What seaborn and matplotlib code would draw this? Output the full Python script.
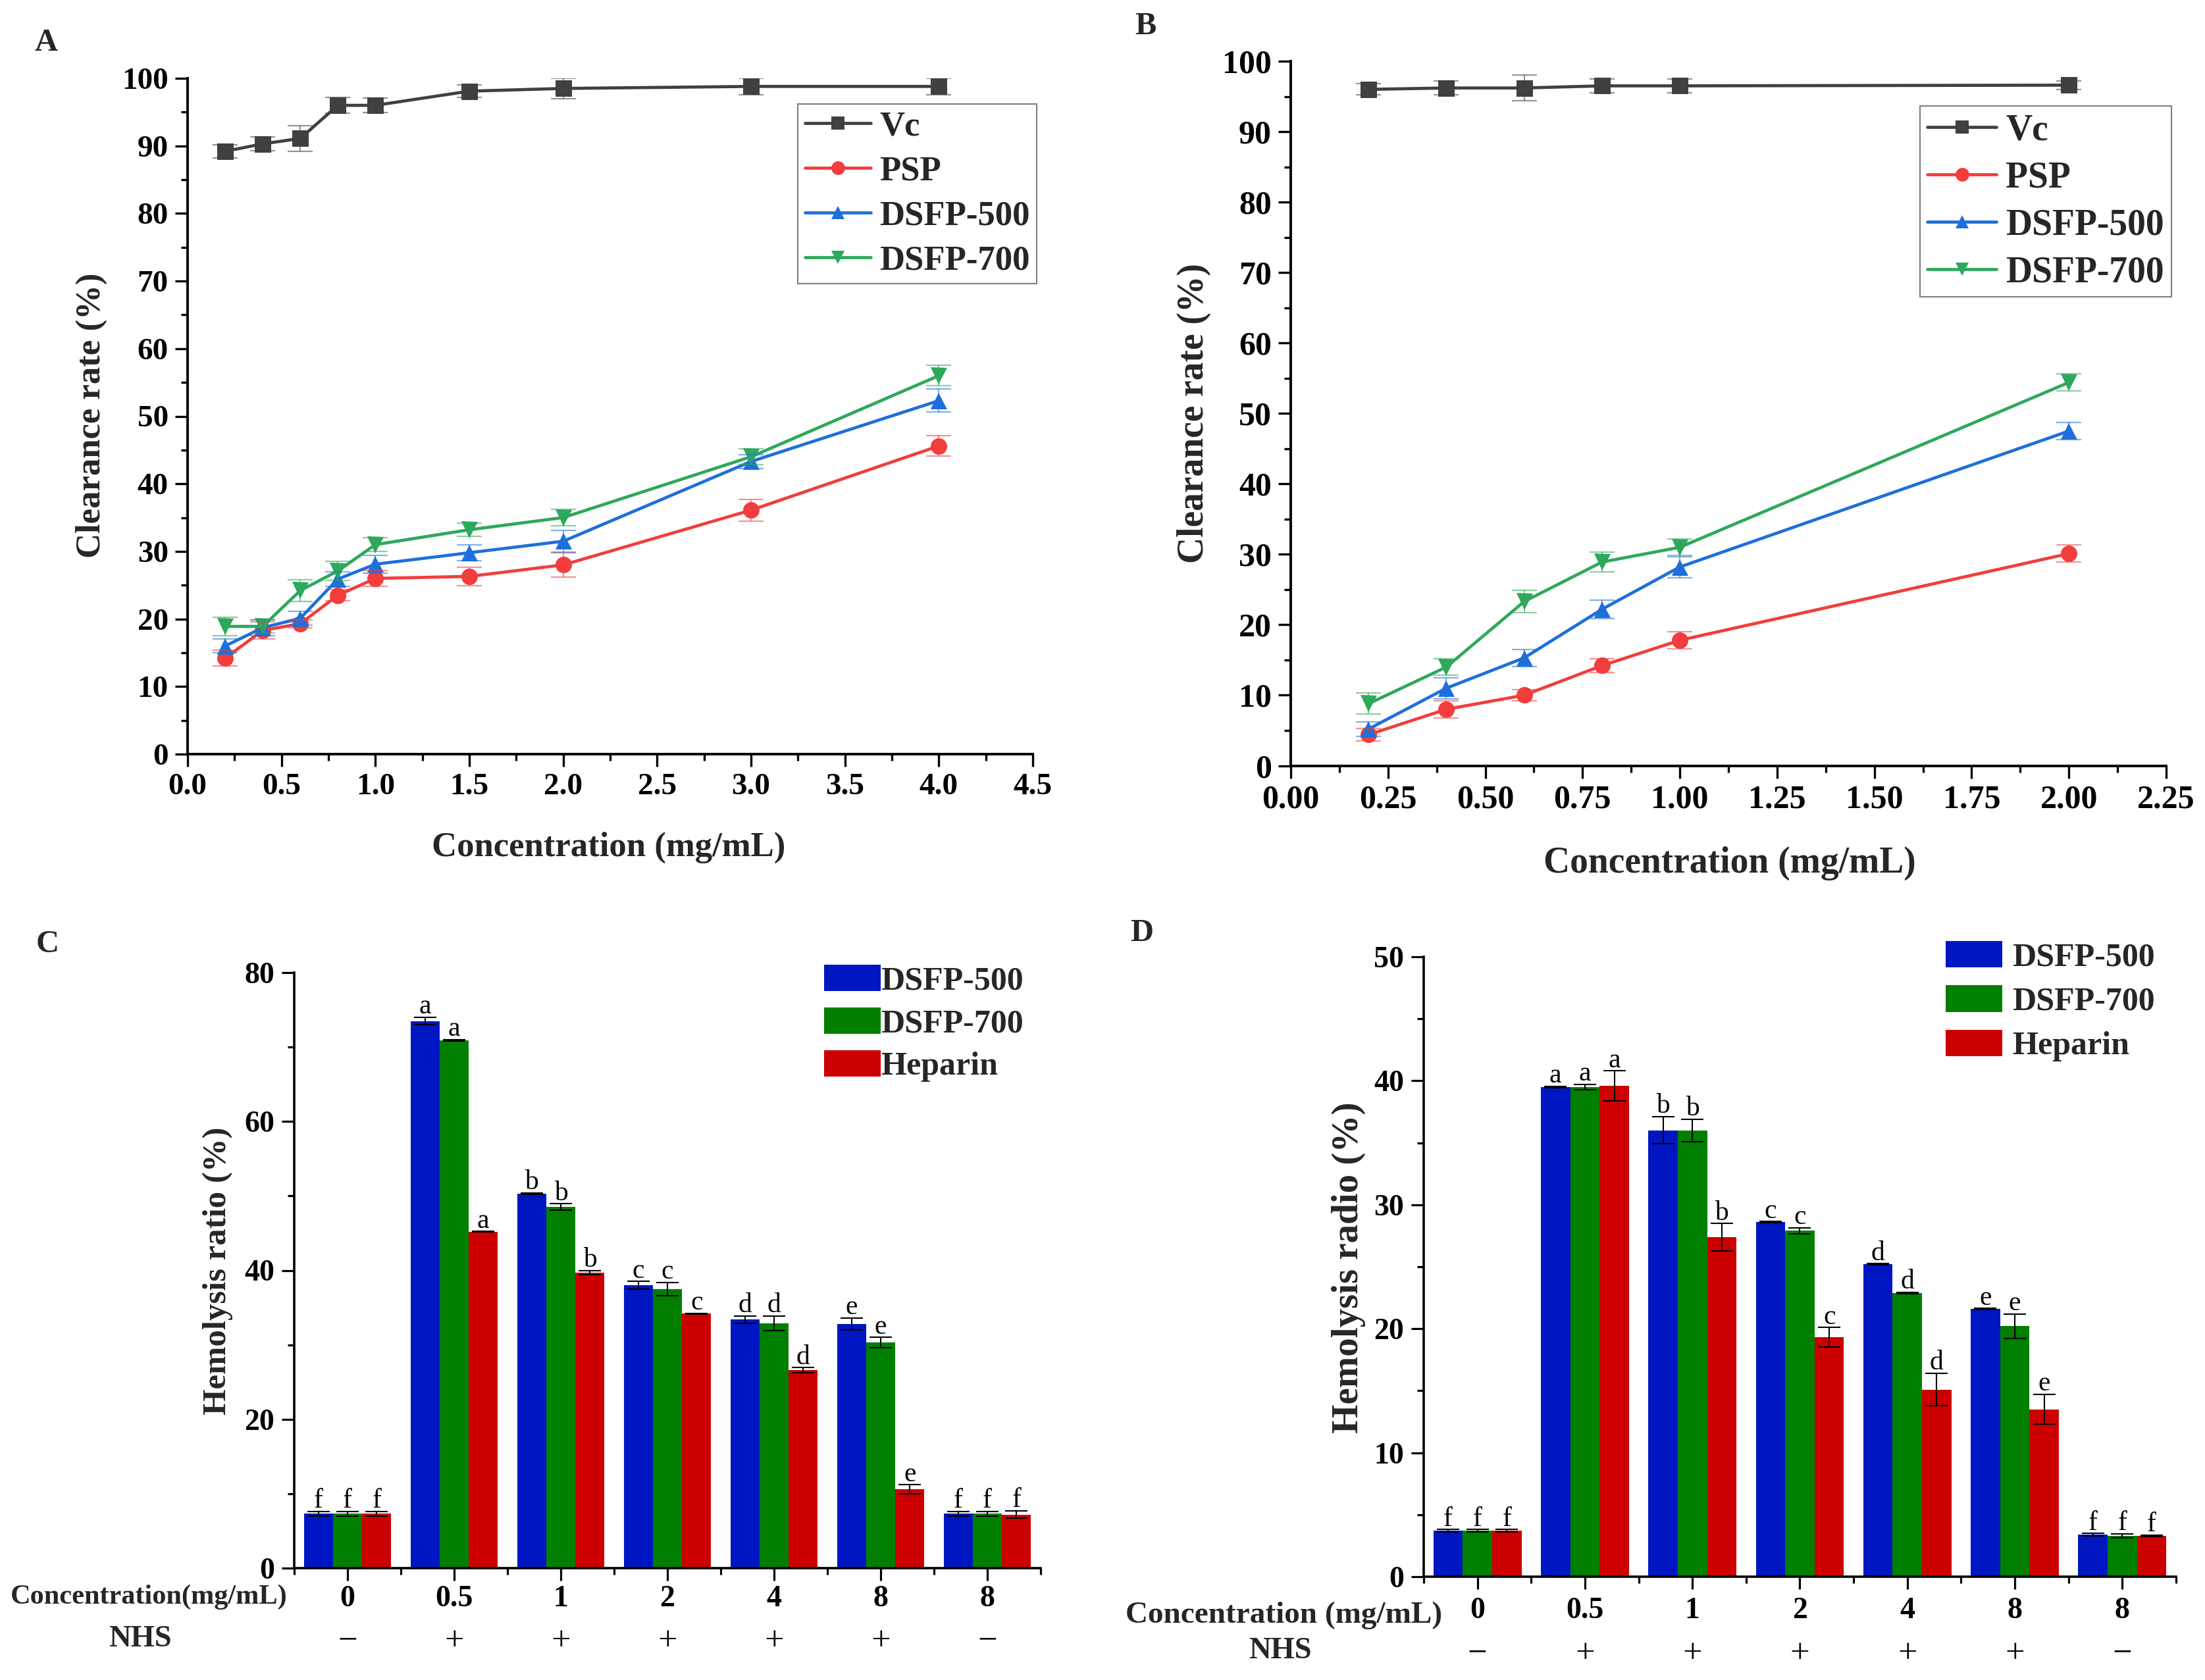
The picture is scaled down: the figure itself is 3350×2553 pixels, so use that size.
import numpy as np
import pandas as pd
import matplotlib
matplotlib.use("Agg")
import matplotlib.pyplot as plt
from matplotlib.ticker import MultipleLocator, FixedLocator, FormatStrFormatter
import seaborn as sns

# ---------------- data ----------------
# Panel A
conc_a = [0.2, 0.4, 0.6, 0.8, 1.0, 1.5, 2.0, 3.0, 4.0]
vc_a = [89.2, 90.3, 91.1, 96.0, 96.0, 98.1, 98.5, 98.8, 98.8]
vc_a_err = [1.0, 1.0, 1.9, 1.2, 1.1, 0.9, 1.5, 1.2, 1.2]
psp_a = [14.2, 18.3, 19.3, 23.5, 26.0, 26.3, 28.0, 36.1, 45.6]
psp_a_err = [1.2, 1.3, 0.6, 0.8, 1.2, 1.4, 1.8, 1.6, 1.5]
d500_a = [16.0, 18.7, 20.1, 25.9, 28.1, 29.8, 31.5, 43.3, 52.3]
d500_a_err = [1.0, 1.2, 1.0, 1.1, 1.3, 1.2, 1.6, 1.0, 1.7]
d700_a = [18.9, 18.9, 24.2, 27.1, 31.0, 33.2, 35.0, 44.0, 56.0]
d700_a_err = [1.4, 1.0, 1.6, 1.4, 1.0, 1.0, 1.2, 1.2, 1.5]

# Panel B
conc_b = [0.2, 0.4, 0.6, 0.8, 1.0, 2.0]
vc_b = [96.0, 96.2, 96.2, 96.5, 96.5, 96.6]
vc_b_err = [0.8, 1.0, 1.8, 1.0, 1.0, 0.6]
psp_b = [4.4, 8.0, 10.0, 14.2, 17.8, 30.1]
psp_b_err = [0.9, 1.2, 0.8, 1.0, 1.2, 1.2]
d500_b = [5.2, 11.0, 15.3, 22.2, 28.2, 47.5]
d500_b_err = [1.0, 1.5, 1.2, 1.3, 1.5, 1.2]
d700_b = [8.8, 14.0, 23.3, 28.9, 31.0, 54.4]
d700_b_err = [1.5, 1.2, 1.6, 1.4, 1.2, 1.2]

line_names = ["Vc", "PSP", "DSFP-500", "DSFP-700"]

# Panels C and D
conc_labels = ["0", "0.5", "1", "2", "4", "8", "8"]
nhs_labels = ["\u2212", "+", "+", "+", "+", "+", "\u2212"]
sig_letters = ["f", "a", "b", "c", "d", "e", "f"]
bar_groups = ["DSFP-500", "DSFP-700", "Heparin"]

c_d500 = [7.3, 73.5, 50.3, 38.0, 33.4, 32.8, 7.3]
c_d500_err = [0.3, 0.5, 0.1, 0.5, 0.5, 0.8, 0.3]
c_d700 = [7.3, 70.9, 48.5, 37.5, 32.9, 30.3, 7.3]
c_d700_err = [0.3, 0.1, 0.45, 0.9, 1.0, 0.7, 0.3]
c_hep = [7.3, 45.2, 39.7, 34.2, 26.6, 10.6, 7.2]
c_hep_err = [0.3, 0.05, 0.3, 0.05, 0.35, 0.6, 0.5]

d_d500 = [3.7, 39.5, 36.0, 28.6, 25.2, 21.6, 3.4]
d_d500_err = [0.1, 0.05, 1.1, 0.05, 0.05, 0.05, 0.1]
d_d700 = [3.7, 39.5, 36.0, 27.9, 22.9, 20.2, 3.3]
d_d700_err = [0.1, 0.2, 0.9, 0.25, 0.05, 1.0, 0.15]
d_hep = [3.7, 39.6, 27.4, 19.3, 15.1, 13.5, 3.3]
d_hep_err = [0.1, 1.2, 1.1, 0.8, 1.3, 1.2, 0.05]

# ---------------- style ----------------
sns.set_theme(style="ticks")
plt.rcParams["font.family"] = ["Liberation Serif", "DejaVu Serif"]
plt.rcParams["font.weight"] = "bold"
plt.rcParams["axes.labelweight"] = "bold"

line_colors = ["#404040", "#F23D3D", "#1E6FDB", "#2EA85C"]
line_markers = ["s", "o", "^", "v"]
bar_palette = {"DSFP-500": "#0016C2", "DSFP-700": "#007F00", "Heparin": "#CC0000"}

W, H, DPI = 3350, 2553, 100
fig = plt.figure(figsize=(W / DPI, H / DPI), dpi=DPI)
fig.patch.set_facecolor("white")


def rect(L, R, T, B):
    return [L / W, 1 - B / H, (R - L) / W, (B - T) / H]


def style_axis(ax, spine_w):
    sns.despine(ax=ax)
    for s in ["left", "bottom"]:
        ax.spines[s].set_linewidth(spine_w)
        ax.spines[s].set_color("black")
    ax.set_facecolor("white")


def line_panel(ax, x, ys, errs, xmax, xmaj, xmin, xfmt, fs_tick, fs_label,
               fs_leg, leg_anchor, ylab_xy, xlab_xy, leg_spacing):
    for y, e, n, c, m in zip(ys, errs, line_names, line_colors, line_markers):
        sns.lineplot(x=x, y=y, ax=ax, color=c, marker=m, markersize=18,
                     markeredgecolor=c, markeredgewidth=0, linewidth=3.4,
                     label=n, errorbar=None, zorder=3)
        ax.errorbar(x, y, yerr=e, fmt="none", ecolor=c, alpha=0.55,
                    elinewidth=1.6, capsize=14, capthick=1.6, zorder=4)
    for ln in ax.get_lines():
        if ln.get_marker() in line_markers:
            ln.set_markersize(18)
    ax.set_xlim(0, xmax)
    ax.set_ylim(0, 100)
    ax.xaxis.set_major_locator(MultipleLocator(xmaj))
    ax.xaxis.set_minor_locator(MultipleLocator(xmin))
    ax.xaxis.set_major_formatter(FormatStrFormatter(xfmt))
    ax.yaxis.set_major_locator(MultipleLocator(10))
    ax.yaxis.set_minor_locator(MultipleLocator(5))
    style_axis(ax, 2.8)
    ax.tick_params(which="major", direction="out", length=14, width=2.4,
                   labelsize=fs_tick, pad=7, color="black", labelcolor="black")
    ax.tick_params(which="minor", direction="out", length=7, width=2.4,
                   color="black")
    ax.set_xlabel("Concentration (mg/mL)", fontsize=fs_label)
    ax.set_ylabel("Clearance rate (%)", fontsize=fs_label)
    ax.xaxis.label.set_va("center")
    ax.yaxis.label.set_va("center")
    ax.xaxis.set_label_coords(*xlab_xy)
    ax.yaxis.set_label_coords(*ylab_xy)
    h, l = ax.get_legend_handles_labels()
    leg = ax.legend(h, l, loc="upper right", bbox_to_anchor=leg_anchor,
                    borderaxespad=0, fontsize=fs_leg, frameon=True,
                    fancybox=False, framealpha=1, edgecolor="#7F7F7F",
                    handlelength=1.9, handletextpad=0.25, borderpad=0.2,
                    labelspacing=leg_spacing, numpoints=1)
    leg.get_frame().set_linewidth(1.5)
    for line in leg.get_lines():
        line.set_linewidth(3.4)
        line.set_markersize(15)


def bar_panel(ax, vals, errs, ymax, ymaj, ymin, fs_tick, fs_ylab, ylabel,
              ylab_xy, leg_anchor, leg_textpad, sign_y, tick_pad, leg_spacing):
    ids = [f"g{i}" for i in range(len(conc_labels))]
    df = pd.DataFrame({
        "cat": ids * len(bar_groups),
        "group": np.repeat(bar_groups, len(ids)),
        "val": np.concatenate(vals),
    })
    sns.barplot(data=df, x="cat", y="val", hue="group", order=ids,
                hue_order=bar_groups, palette=bar_palette, width=0.82,
                errorbar=None, linewidth=0, saturation=1, ax=ax)
    for cont, v, e in zip(ax.containers, vals, errs):
        xs = [b.get_x() + b.get_width() / 2 for b in cont]
        ax.errorbar(xs, v, yerr=e, fmt="none", ecolor="black",
                    elinewidth=1.5, capsize=12, capthick=1.5, zorder=5)
        for xx, vv, ee, lt in zip(xs, v, e, sig_letters):
            ax.annotate(lt, (xx, vv + ee), xytext=(0, 4),
                        textcoords="offset points", ha="center",
                        va="baseline", fontsize=30, fontweight="normal",
                        color="black")
    ax.set_xlim(-0.5, len(ids) - 0.5)
    ax.set_ylim(0, ymax)
    ax.set_xticks(range(len(ids)))
    ax.set_xticklabels(conc_labels)
    ax.xaxis.set_minor_locator(FixedLocator(np.arange(-0.5, len(ids), 1.0)))
    ax.yaxis.set_major_locator(MultipleLocator(ymaj))
    ax.yaxis.set_minor_locator(MultipleLocator(ymin))
    style_axis(ax, 2.6)
    ax.tick_params(which="major", direction="out", length=13.5, width=2.3,
                   color="black", labelcolor="black")
    ax.tick_params(axis="y", which="major", labelsize=33, pad=8)
    ax.tick_params(axis="x", which="major", labelsize=fs_tick, pad=tick_pad)
    ax.tick_params(which="minor", direction="out", length=7, width=2.3,
                   color="black")
    ax.set_xlabel("")
    ax.set_ylabel(ylabel, fontsize=fs_ylab)
    ax.yaxis.label.set_va("center")
    ax.yaxis.set_label_coords(*ylab_xy)
    for i, s in enumerate(nhs_labels):
        ax.text(i, sign_y, s, transform=ax.get_xaxis_transform(),
                ha="center", va="center", fontsize=38, fontweight="normal",
                color="black")
    h, l = ax.get_legend_handles_labels()
    ax.legend(h, l, loc="upper left", bbox_to_anchor=leg_anchor,
              borderaxespad=0, borderpad=0, frameon=False, fontsize=36,
              handlelength=1.72, handleheight=0.86,
              handletextpad=leg_textpad, labelspacing=leg_spacing)


# ---------------- panel A ----------------
axA = fig.add_axes(rect(285, 1569, 119, 1146))
line_panel(axA, conc_a, [vc_a, psp_a, d500_a, d700_a],
           [vc_a_err, psp_a_err, d500_a_err, d700_a_err],
           4.5, 0.5, 0.25, "%.1f", 34, 38, 38, (1.0047, 0.962),
           (-0.1137, 0.5015), (0.4984, -0.1383), 0.38)

# ---------------- panel B ----------------
axB = fig.add_axes(rect(1961, 3291, 93, 1163.5))
line_panel(axB, conc_b, [vc_b, psp_b, d500_b, d700_b],
           [vc_b_err, psp_b_err, d500_b_err, d700_b_err],
           2.25, 0.25, 0.125, "%.2f", 36, 40, 40, (1.006, 0.9365),
           (-0.1105, 0.5002), (0.5015, -0.1387), 0.36)

# ---------------- panel C ----------------
axC = fig.add_axes(rect(447, 1581, 1478, 2383))
bar_panel(axC, [c_d500, c_d700, c_hep], [c_d500_err, c_d700_err, c_hep_err],
          80, 20, 10, 33, 36.5, "Hemolysis ratio (%)", (-0.1023, 0.4994),
          (0.710, 1.013), 0.0, -0.1227, 5, 0.33)

# ---------------- panel D ----------------
axD = fig.add_axes(rect(2163, 3306, 1454, 2396))
bar_panel(axD, [d_d500, d_d700, d_hep], [d_d500_err, d_d700_err, d_hep_err],
          50, 10, 5, 33, 41, "Hemolysis radio (%)", (-0.1002, 0.499),
          (0.6938, 1.0255), 0.3, -0.1242, 9, 0.38)

# row labels under bar panels
fig.text(226 / W, 1 - 2427 / H, "Concentration(mg/mL)", ha="center",
         va="center", fontsize=30.5, fontweight="bold")
fig.text(213 / W, 1 - 2491 / H, "NHS", ha="center", va="center",
         fontsize=33.5, fontweight="bold")
fig.text(1951 / W, 1 - 2455 / H, "Concentration (mg/mL)", ha="center",
         va="center", fontsize=34, fontweight="bold")
fig.text(1945 / W, 1 - 2509 / H, "NHS", ha="center", va="center",
         fontsize=33.5, fontweight="bold")

# panel letters
for lt, (px, py) in zip("ABCD", [(70, 65), (1740, 40), (72, 1435), (1735, 1418)]):
    fig.text(px / W, 1 - py / H, lt, ha="center", va="center", fontsize=35,
             fontweight="bold")

fig.savefig("out.png", dpi=DPI, facecolor="white")
